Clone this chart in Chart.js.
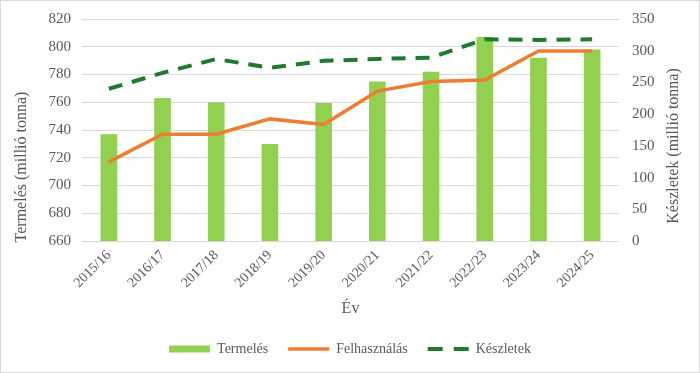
<!DOCTYPE html>
<html>
<head>
<meta charset="utf-8">
<script src="https://cdn.jsdelivr.net/npm/chart.js@4/dist/chart.umd.min.js"></script>
<style>
html,body{margin:0;padding:0;background:#fff;}
#wrap{position:absolute;left:0;top:0;width:698px;height:371px;border:1px solid #d9d9d9;}
canvas{display:block;}
</style>
</head>
<body>
<div id="wrap"><canvas id="c" width="698" height="371"></canvas></div>
<script>
const categories = ['2015/16','2016/17','2017/18','2018/19','2019/20','2020/21','2021/22','2022/23','2023/24','2024/25'];
const termeles = [737, 763, 760, 730, 759.5, 775, 782, 807, 792, 798];
const felhasznalas = [717, 737, 737, 748, 744, 768, 775, 776, 797, 797];
const keszletek = [240, 265, 287, 273, 284, 287, 289, 318, 317, 318];
const leftTicks = [660, 680, 700, 720, 740, 760, 780, 800, 820];
const rightTicks = [0, 50, 100, 150, 200, 250, 300, 350];

const FONT = '"Liberation Serif", "Times New Roman", serif';
const GREY = '#595959';

const axisTitles = {
  id: 'axisTitles',
  afterDraw(chart) {
    const ctx = chart.ctx;
    ctx.save();
    ctx.fillStyle = GREY;
    ctx.font = '16px ' + FONT;
    ctx.textAlign = 'center';
    ctx.textBaseline = 'middle';
    ctx.translate(21, 166);
    ctx.rotate(-Math.PI / 2);
    ctx.fillText('Termelés (millió tonna)', 0, 0);
    ctx.restore();
    ctx.save();
    ctx.fillStyle = GREY;
    ctx.font = '16px ' + FONT;
    ctx.textAlign = 'center';
    ctx.textBaseline = 'middle';
    ctx.translate(673, 145);
    ctx.rotate(-Math.PI / 2);
    ctx.fillText('Készletek (millió tonna)', 0, 0);
    ctx.restore();
  }
};

new Chart(document.getElementById('c'), {
  type: 'bar',
  data: {
    labels: categories,
    datasets: [
      {
        type: 'bar', label: 'Termelés', data: termeles, yAxisID: 'y',
        backgroundColor: '#92D050', borderWidth: 0,
        barPercentage: 0.31, categoryPercentage: 1, order: 3, pointStyle: 'rect'
      },
      {
        type: 'line', label: 'Felhasználás', data: felhasznalas, yAxisID: 'y',
        borderColor: '#ED7D31', backgroundColor: '#ED7D31', borderWidth: 3.5,
        pointRadius: 0, tension: 0, order: 2, pointStyle: 'line'
      },
      {
        type: 'line', label: 'Készletek', data: keszletek, yAxisID: 'y2',
        borderColor: '#1F7A2E', backgroundColor: '#1F7A2E', borderWidth: 4,
        borderDash: [14, 10], pointRadius: 0, tension: 0, order: 1, pointStyle: 'line'
      }
    ]
  },
  options: {
    responsive: false,
    animation: false,
    layout: { padding: { top: 18, left: 0, right: 0, bottom: 6 } },
    plugins: {
      tooltip: { enabled: false },
      legend: {
        position: 'bottom',
        labels: {
          usePointStyle: true, pointStyleWidth: 41, boxHeight: 7,
          padding: 20, color: GREY,
          font: { family: FONT, size: 14 },
          sort: (a, b) => a.datasetIndex - b.datasetIndex,
          generateLabels(chart) {
            const items = Chart.defaults.plugins.legend.labels.generateLabels(chart);
            items.forEach(it => {
              const ds = chart.data.datasets[it.datasetIndex];
              if (ds.type === 'line') {
                it.lineWidth = ds.borderWidth;
                it.strokeStyle = ds.borderColor;
                it.lineDash = ds.borderDash ? [15, 11] : [];
              }
            });
            return items;
          }
        }
      }
    },
    scales: {
      x: {
        grid: { display: false, drawTicks: false },
        border: { display: false },
        ticks: { color: GREY, font: { family: FONT, size: 14 }, minRotation: 45, maxRotation: 45, padding: 6 },
        title: { display: true, text: 'Év', color: GREY, font: { family: FONT, size: 16 }, padding: { top: 4, bottom: 4 } },
        afterFit(s) { s.height = 81; s.paddingTop = 0; s.paddingBottom = 0; }
      },
      y: {
        position: 'left', min: 660, max: 820,
        afterBuildTicks(s) { s.ticks = leftTicks.map(v => ({ value: v })); },
        grid: { color: '#d9d9d9', drawTicks: false, lineWidth: 1 },
        border: { display: false },
        ticks: { color: GREY, font: { family: FONT, size: 15 }, padding: 11 },
        afterFit(s) { s.width = 81; s.paddingTop = 0; s.paddingBottom = 0; }
      },
      y2: {
        position: 'right', min: 0, max: 350,
        afterBuildTicks(s) { s.ticks = rightTicks.map(v => ({ value: v })); },
        grid: { display: false, drawTicks: false },
        border: { display: false },
        ticks: { color: GREY, font: { family: FONT, size: 15 }, padding: 13 },
        afterFit(s) { s.width = 80; s.paddingTop = 0; s.paddingBottom = 0; }
      }
    }
  },
  plugins: [axisTitles]
});
</script>
</body>
</html>
